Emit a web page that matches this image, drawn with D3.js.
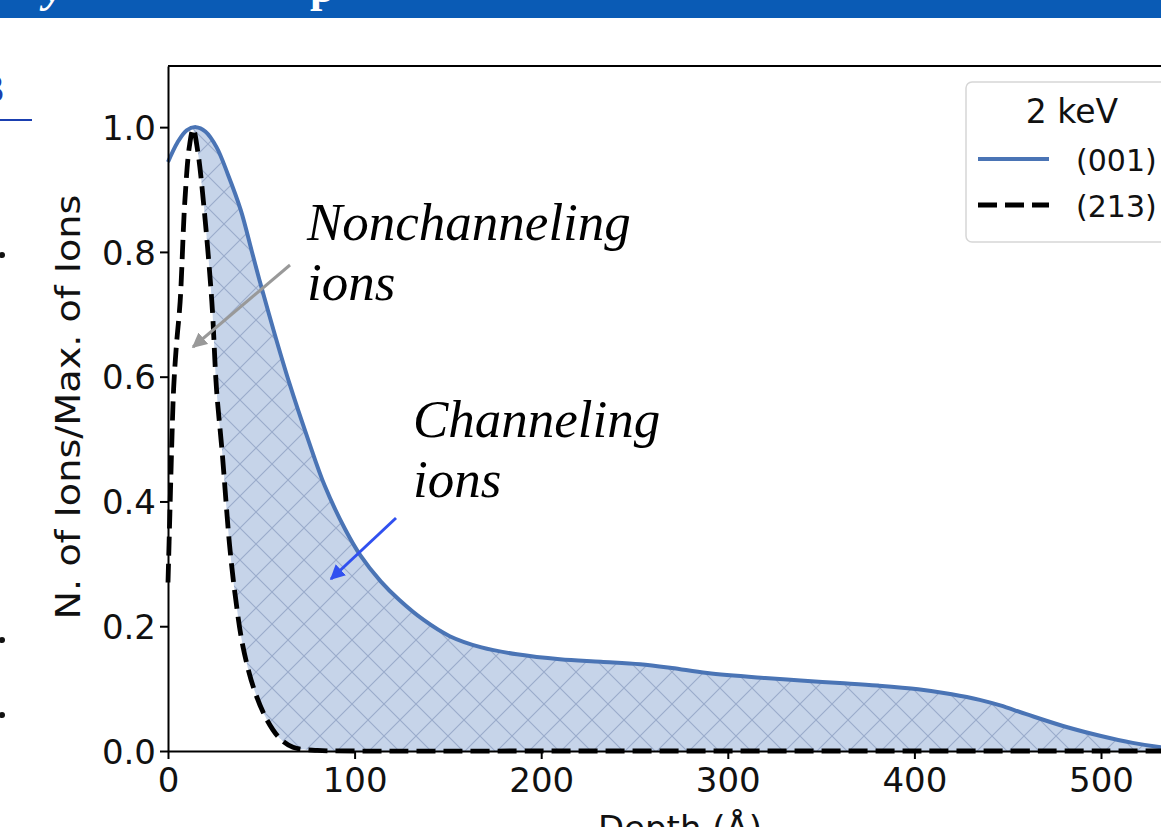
<!DOCTYPE html>
<html>
<head>
<meta charset="utf-8">
<script src="https://cdn.jsdelivr.net/npm/d3@7"></script>
<style>
  body { margin: 0; background: #fff; overflow: hidden; }
  svg { display: block; }
</style>
</head>
<body>
<script>
// (001) channel - solid blue
var depth001 = [0, 5, 10, 15, 20, 26, 32, 39, 45, 49, 57, 65, 75, 84, 95, 103, 114, 124, 137, 151, 168, 187, 210, 232, 253, 270, 289, 320, 339, 360, 380, 402, 420, 435, 446, 460, 482, 500, 517, 532, 545, 560];
var ions001  = [0.944, 0.975, 0.995, 1.0, 0.993, 0.968, 0.925, 0.867, 0.80, 0.755, 0.67, 0.59, 0.50, 0.425, 0.355, 0.314, 0.272, 0.242, 0.21, 0.184, 0.166, 0.155, 0.147, 0.143, 0.139, 0.133, 0.125, 0.117, 0.113, 0.109, 0.105, 0.099, 0.091, 0.082, 0.073, 0.059, 0.038, 0.024, 0.013, 0.006, 0.002, 0.0];
// (213) - dashed black
var depth213 = [0, 1, 2, 3, 4.5, 6.5, 9, 11.5, 13.5, 16, 19, 23.5, 26, 29, 33, 36, 40, 46, 53, 60, 67, 80, 100, 200, 300, 400, 500, 560];
var ions213  = [0.27, 0.38, 0.49, 0.58, 0.65, 0.72, 0.88, 0.97, 0.997, 0.96, 0.88, 0.72, 0.58, 0.48, 0.33, 0.25, 0.17, 0.10, 0.05, 0.02, 0.006, 0.001, 0, 0, 0, 0, 0, 0];

var xTicks = [0, 100, 200, 300, 400, 500];
var yTicks = [0.0, 0.2, 0.4, 0.6, 0.8, 1.0];
var legendTitle = "2 keV";
var seriesNames = ["(001)", "(213)"];

var W = 1161, H = 827;
var plotLeft = 168, plotTop = 66, plotBottom = 751;

var svg = d3.select("body").append("svg")
    .attr("width", W).attr("height", H);

var x = d3.scaleLinear().domain([0, 560]).range([plotLeft, plotLeft + 560 * 1.866]);
var y = d3.scaleLinear().domain([0, 1.098]).range([plotBottom, plotTop]);

// slide bits around the figure
svg.append("rect").attr("x", 0).attr("y", 0).attr("width", W).attr("height", 18).attr("fill", "#0a5bb5");
svg.append("text").attr("x", 44).attr("y", 2)
    .style("font", "italic bold 44px 'Liberation Serif'").attr("fill", "#fff").text("y");
svg.append("text").attr("x", 310).attr("y", 2)
    .style("font", "bold 44px 'Liberation Serif'").attr("fill", "#fff").text("p");
svg.append("text").attr("x", -16).attr("y", 102)
    .style("font", "40px 'Liberation Serif'").attr("fill", "#1a3fb0").text("3");
svg.append("line").attr("x1", 0).attr("x2", 32).attr("y1", 120).attr("y2", 120)
    .attr("stroke", "#1a3fb0").attr("stroke-width", 2);
[255, 640, 715].forEach(function(yy){
  svg.append("circle").attr("cx", 2).attr("cy", yy).attr("r", 3).attr("fill", "#111");
});

// hatch pattern
var defs = svg.append("defs");
var pat = defs.append("pattern").attr("id", "hatch")
    .attr("patternUnits", "userSpaceOnUse").attr("width", 32).attr("height", 32);
pat.append("rect").attr("width", 32).attr("height", 32).attr("fill", "#c6d4e9");
pat.append("path").attr("d", "M0,0L32,32M0,32L32,0")
    .attr("stroke", "#9aabcb").attr("stroke-width", 1.1);

var line = d3.line()
    .x(function(d){ return x(d[0]); })
    .y(function(d){ return y(d[1]); })
    .curve(d3.curveCatmullRom.alpha(0.5));

var pts001 = depth001.map(function(d, i){ return [d, ions001[i]]; });
var pts213 = depth213.map(function(d, i){ return [d, ions213[i]]; });

// fill between the curves, right of the peak
var upper = pts001.filter(function(d){ return d[0] >= 15; });
var lower = pts213.filter(function(d){ return d[0] >= 13.5; }).reverse();
svg.append("path")
    .attr("d", line(upper) + "L" + line(lower).slice(1) + "Z")
    .attr("fill", "url(#hatch)");

svg.append("path").attr("d", line(pts001))
    .attr("fill", "none").attr("stroke", "#4a74b5").attr("stroke-width", 4);
svg.append("path").attr("d", line(pts213))
    .attr("fill", "none").attr("stroke", "#000").attr("stroke-width", 4.8)
    .attr("stroke-dasharray", "19,8");

// axes
var xAxis = svg.append("g").attr("transform", "translate(0," + plotBottom + ")")
    .call(d3.axisBottom(x).tickValues(xTicks).tickSize(8).tickSizeOuter(0).tickFormat(d3.format("d")));
var yAxis = svg.append("g").attr("transform", "translate(" + plotLeft + ",0)")
    .call(d3.axisLeft(y).tickValues(yTicks).tickSize(8).tickSizeOuter(0).tickFormat(d3.format(".1f")));
[xAxis, yAxis].forEach(function(a){
  a.select(".domain").attr("stroke", "#000").attr("stroke-width", 2);
  a.selectAll(".tick line").attr("stroke", "#000").attr("stroke-width", 2);
  a.selectAll(".tick text").style("font-family", "'DejaVu Sans'").style("font-size", "34px").attr("fill", "#111");
});
xAxis.selectAll(".tick text").attr("dy", "0.95em").attr("y", 9);
yAxis.selectAll(".tick text").attr("x", -12).attr("dy", "0.36em");
svg.append("line").attr("x1", plotLeft).attr("x2", W).attr("y1", plotTop).attr("y2", plotTop)
    .attr("stroke", "#000").attr("stroke-width", 2);

svg.append("text").attr("transform", "translate(80,407) rotate(-90)")
    .attr("text-anchor", "middle")
    .attr("textLength", 425).attr("lengthAdjust", "spacingAndGlyphs")
    .style("font", "33px 'DejaVu Sans'").attr("fill", "#111")
    .text("N. of Ions/Max. of Ions");
svg.append("text").attr("x", 680).attr("y", 840).attr("text-anchor", "middle")
    .style("font", "34px 'DejaVu Sans'").attr("fill", "#111")
    .text("Depth (Å)");

// legend
var lg = svg.append("g");
lg.append("rect").attr("x", 966).attr("y", 82).attr("width", 240).attr("height", 160).attr("rx", 6)
    .attr("fill", "#fff").attr("fill-opacity", 0.8).attr("stroke", "#d6d6d6").attr("stroke-width", 1.5);
lg.append("text").attr("x", 1072).attr("y", 123).attr("text-anchor", "middle")
    .style("font", "33px 'DejaVu Sans'").attr("fill", "#111").text(legendTitle);
lg.append("line").attr("x1", 978).attr("x2", 1049).attr("y1", 159).attr("y2", 159)
    .attr("stroke", "#4a74b5").attr("stroke-width", 4);
lg.append("line").attr("x1", 978).attr("x2", 1049).attr("y1", 205).attr("y2", 205)
    .attr("stroke", "#000").attr("stroke-width", 4.8).attr("stroke-dasharray", "19,8");
seriesNames.forEach(function(s, i){
  lg.append("text").attr("x", 1076).attr("y", 171 + i * 46)
      .style("font", "30px 'DejaVu Sans'").attr("fill", "#111").text(s);
});

// annotations
function arrow(id, color){
  defs.append("marker").attr("id", id).attr("viewBox", "0 0 10 10")
      .attr("refX", 9).attr("refY", 5).attr("markerWidth", 5).attr("markerHeight", 5)
      .attr("orient", "auto").attr("markerUnits", "strokeWidth")
      .append("path").attr("d", "M0,0L10,5L0,10Z").attr("fill", color);
}
arrow("ag", "#999");
arrow("ab", "#3050f0");
svg.append("line").attr("x1", 290).attr("y1", 265).attr("x2", 193).attr("y2", 347)
    .attr("stroke", "#999").attr("stroke-width", 3).attr("marker-end", "url(#ag)");
svg.append("line").attr("x1", 396).attr("y1", 518).attr("x2", 331).attr("y2", 579)
    .attr("stroke", "#3050f0").attr("stroke-width", 3).attr("marker-end", "url(#ab)");

var ann = [["Nonchanneling", 307, 240], ["ions", 307, 300], ["Channeling", 413, 437], ["ions", 413, 497]];
ann.forEach(function(a){
  svg.append("text").attr("x", a[1]).attr("y", a[2])
      .style("font", "italic 53px 'Liberation Serif'").attr("fill", "#000").text(a[0]);
});
</script>
</body>
</html>
